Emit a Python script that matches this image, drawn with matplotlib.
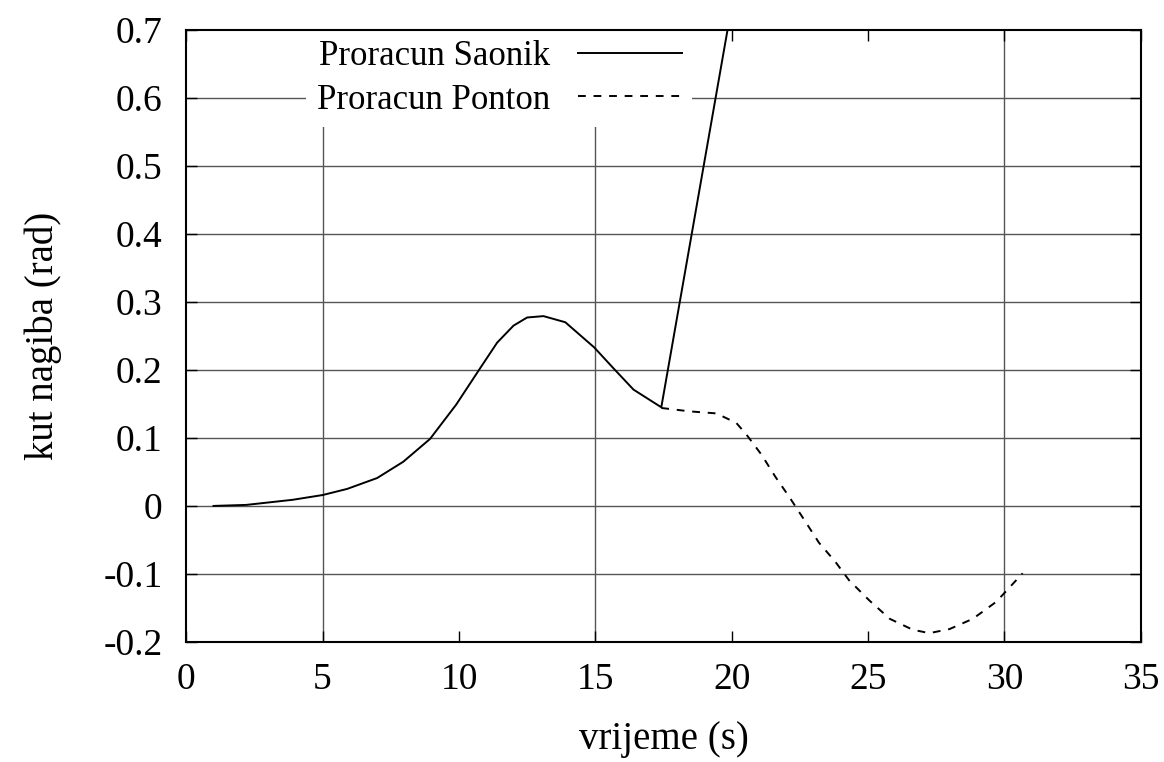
import matplotlib
matplotlib.use("Agg")
import matplotlib.pyplot as plt

# Data
saonik_t = [1.0, 2.2, 3.9, 5.0, 5.9, 7.0, 7.96, 8.94, 9.9, 10.77, 11.4, 12.0, 12.5,
            13.1, 13.9, 14.96, 15.65, 16.4, 17.42, 19.85]
saonik_y = [0.0, 0.0015, 0.009, 0.016, 0.025, 0.041, 0.065, 0.0985, 0.149, 0.202,
            0.240, 0.265, 0.277, 0.279, 0.270, 0.233, 0.203, 0.171, 0.145, 0.70]

ponton_t = [17.42, 18.46, 19.44, 20.17, 20.54, 21.1, 21.6, 22.1, 22.67, 23.2, 23.8,
            24.3, 25.05, 25.8, 26.64, 27.25, 27.99, 28.84, 29.7, 30.67]
ponton_y = [0.144, 0.139, 0.136, 0.122, 0.105, 0.075, 0.043, 0.014, -0.021, -0.054,
            -0.082, -0.109, -0.139, -0.166, -0.182, -0.187, -0.181, -0.166, -0.141, -0.099]

x_ticks = [0, 5, 10, 15, 20, 25, 30, 35]
y_ticks = [-0.2, -0.1, 0, 0.1, 0.2, 0.3, 0.4, 0.5, 0.6, 0.7]
y_tick_labels = ["-0.2", "-0.1", "0", "0.1", "0.2", "0.3", "0.4", "0.5", "0.6", "0.7"]
x_grid = [5, 15, 30]

plt.rcParams['font.family'] = ['Liberation Serif', 'DejaVu Serif']

fig = plt.figure(figsize=(11.64, 7.62), dpi=100)
ax = fig.add_axes([0.160, 0.1575, 0.820, 0.8035])

ax.set_xlim(0, 35)
ax.set_ylim(-0.2, 0.7)

# grid
for yv in y_ticks[1:-1]:
    ax.axhline(yv, color='#555555', lw=1.0, zorder=1)
for xv in x_grid:
    ax.axvline(xv, color='#555555', lw=1.0, zorder=1)

ax.plot(saonik_t, saonik_y, color='black', lw=1.4, label='Proracun Saonik', zorder=3)
ax.plot(ponton_t, ponton_y, color='black', lw=1.4, dashes=(4, 4),
        label='Proracun Ponton', zorder=3)

ax.set_xticks(x_ticks)
ax.set_xticklabels([str(v) for v in x_ticks])
ax.set_yticks(y_ticks)
ax.set_yticklabels(y_tick_labels)
ax.tick_params(direction='in', length=8, width=1.0, labelsize=27,
               top=True, right=True)
ax.tick_params(axis='y', pad=17)
ax.tick_params(axis='x', pad=15)
for s in ax.spines.values():
    s.set_linewidth(1.5)
    s.set_zorder(5)

ax.set_xlabel('vrijeme (s)', fontsize=28, labelpad=17)
ax.set_ylabel('kut nagiba (rad)', fontsize=28, labelpad=30)

leg = ax.legend(loc='upper right', bbox_to_anchor=(0.53, 1.0), borderaxespad=0.0,
                markerfirst=False, fontsize=25, handlelength=3.0, frameon=True,
                fancybox=False, labelspacing=0.3, handletextpad=0.8,
                borderpad=0.3)
leg.get_frame().set_facecolor('white')
leg.get_frame().set_edgecolor('none')
leg.get_frame().set_alpha(1.0)
leg.set_zorder(4)

fig.savefig('out.png', dpi=100)
